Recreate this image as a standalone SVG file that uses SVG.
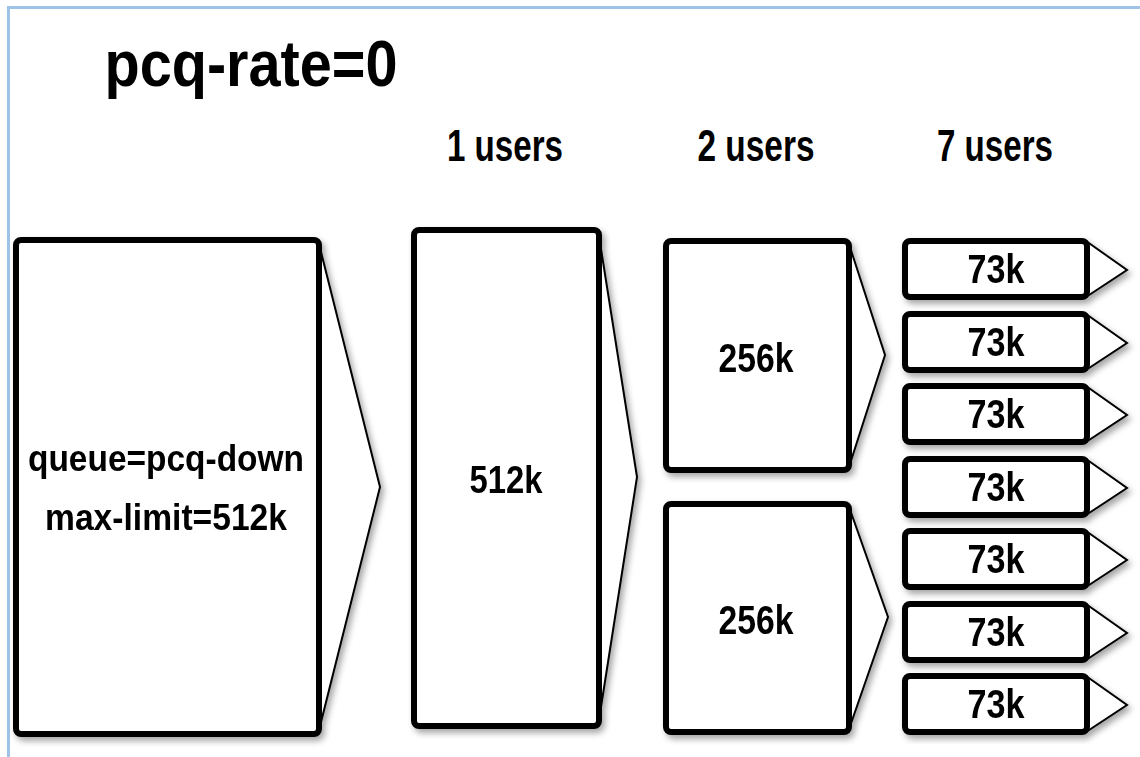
<svg xmlns="http://www.w3.org/2000/svg" width="1140" height="757" viewBox="0 0 1140 757">
<defs>
<filter id="sh" x="-10%" y="-10%" width="130%" height="130%">
<feDropShadow dx="3" dy="4" stdDeviation="3" flood-color="#000" flood-opacity="0.35"/>
</filter>
<style>
text{font-family:"Liberation Sans",Arial,Helvetica,sans-serif;font-weight:bold;fill:#000;text-anchor:middle}
.box{fill:#fff;stroke:#000;stroke-width:6}
.tri{fill:#fff;stroke:#000;stroke-width:2;stroke-linejoin:miter}
.hdr{font-size:44px}
.v{font-size:41px}
</style>
</defs>
<rect width="1140" height="757" fill="#fff"/>
<path d="M8.5 757 V7.5 H1140" fill="none" stroke="#9fc3e7" stroke-width="3"/>
<text x="251" y="86" font-size="64" textLength="293" lengthAdjust="spacingAndGlyphs">pcq-rate=0</text>
<g id="headers">
<text class="hdr" x="505" y="161" textLength="116" lengthAdjust="spacingAndGlyphs">1 users</text>
<text class="hdr" x="756" y="161" textLength="117" lengthAdjust="spacingAndGlyphs">2 users</text>
<text class="hdr" x="995" y="161" textLength="116" lengthAdjust="spacingAndGlyphs">7 users</text>
</g>
<g id="connectors"></g>
<g id="node-root" filter="url(#sh)">
<polygon class="tri" points="318,240 380,487 318,734"/>
<rect class="box" x="16" y="240" width="303" height="494" rx="5"/>
<text x="166" y="471" font-size="37" textLength="276" lengthAdjust="spacingAndGlyphs">queue=pcq-down</text>
<text x="166" y="530" font-size="37" textLength="242" lengthAdjust="spacingAndGlyphs">max-limit=512k</text>
</g>
<g id="node-512k" filter="url(#sh)">
<polygon class="tri" points="598,230 637,477 598,726"/>
<rect class="box" x="414" y="230" width="185" height="496" rx="5"/>
<text x="506" y="493" font-size="38" textLength="73" lengthAdjust="spacingAndGlyphs">512k</text>
</g>
<g id="node-256k-1" filter="url(#sh)">
<polygon class="tri" points="848,241 885,355 848,470"/>
<rect class="box" x="666" y="241" width="183" height="229" rx="5"/>
<text class="v" x="756" y="372" textLength="75" lengthAdjust="spacingAndGlyphs">256k</text>
</g>
<g id="node-256k-2" filter="url(#sh)">
<polygon class="tri" points="848,504 888,617 848,732"/>
<rect class="box" x="666" y="504" width="183" height="228" rx="5"/>
<text class="v" x="756" y="634" textLength="75" lengthAdjust="spacingAndGlyphs">256k</text>
</g>
<g id="node-73k-1" filter="url(#sh)" transform="translate(0,238)">
<polygon class="tri" points="1086,3 1127,32 1086,59"/>
<rect class="box" x="905" y="3" width="182" height="56" rx="5"/>
<text class="v" x="996" y="45" textLength="57" lengthAdjust="spacingAndGlyphs">73k</text>
</g>
<g id="node-73k-2" filter="url(#sh)" transform="translate(0,311)">
<polygon class="tri" points="1086,3 1127,32 1086,59"/>
<rect class="box" x="905" y="3" width="182" height="56" rx="5"/>
<text class="v" x="996" y="45" textLength="57" lengthAdjust="spacingAndGlyphs">73k</text>
</g>
<g id="node-73k-3" filter="url(#sh)" transform="translate(0,383)">
<polygon class="tri" points="1086,3 1127,32 1086,59"/>
<rect class="box" x="905" y="3" width="182" height="56" rx="5"/>
<text class="v" x="996" y="45" textLength="57" lengthAdjust="spacingAndGlyphs">73k</text>
</g>
<g id="node-73k-4" filter="url(#sh)" transform="translate(0,456)">
<polygon class="tri" points="1086,3 1127,32 1086,59"/>
<rect class="box" x="905" y="3" width="182" height="56" rx="5"/>
<text class="v" x="996" y="45" textLength="57" lengthAdjust="spacingAndGlyphs">73k</text>
</g>
<g id="node-73k-5" filter="url(#sh)" transform="translate(0,528)">
<polygon class="tri" points="1086,3 1127,32 1086,59"/>
<rect class="box" x="905" y="3" width="182" height="56" rx="5"/>
<text class="v" x="996" y="45" textLength="57" lengthAdjust="spacingAndGlyphs">73k</text>
</g>
<g id="node-73k-6" filter="url(#sh)" transform="translate(0,601)">
<polygon class="tri" points="1086,3 1127,32 1086,59"/>
<rect class="box" x="905" y="3" width="182" height="56" rx="5"/>
<text class="v" x="996" y="45" textLength="57" lengthAdjust="spacingAndGlyphs">73k</text>
</g>
<g id="node-73k-7" filter="url(#sh)" transform="translate(0,673)">
<polygon class="tri" points="1086,3 1127,32 1086,59"/>
<rect class="box" x="905" y="3" width="182" height="56" rx="5"/>
<text class="v" x="996" y="45" textLength="57" lengthAdjust="spacingAndGlyphs">73k</text>
</g>
</svg>
